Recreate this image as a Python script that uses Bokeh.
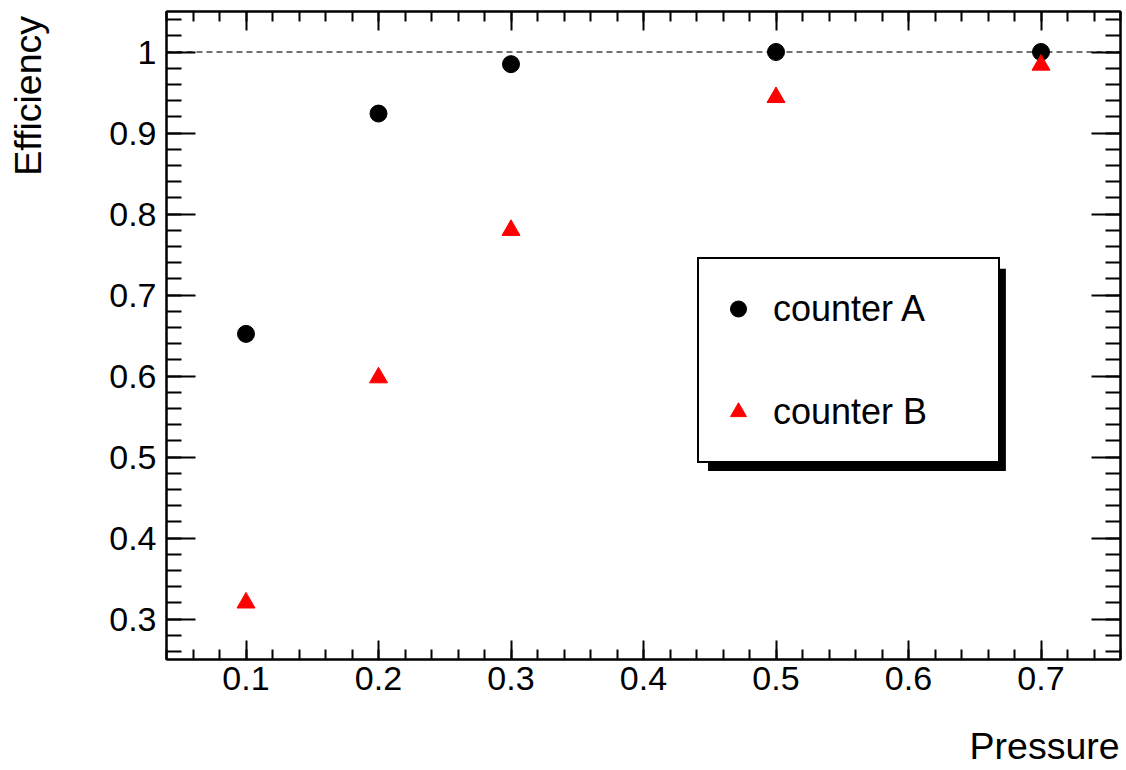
from bokeh.plotting import figure
from bokeh.models import (Range1d, LinearAxis, FixedTicker, CustomJSTickFormatter, Span,
                          Legend, LegendItem, BoxAnnotation)
from bokeh.embed import file_html
from bokeh.resources import INLINE

# ---- data ----
pressure = [0.1, 0.2, 0.3, 0.5, 0.7]
eff_a = [0.652, 0.924, 0.985, 1.0, 1.0]
eff_b = [0.320, 0.598, 0.780, 0.944, 0.984]
x_ticks = [0.1, 0.2, 0.3, 0.4, 0.5, 0.6, 0.7]
y_ticks = [0.3, 0.4, 0.5, 0.6, 0.7, 0.8, 0.9, 1.0]
x_label = "Pressure"
y_label = "Efficiency"
names = ["counter A", "counter B"]

FONT = "Liberation Sans"
NBSP = "\u00a0"
x_minor = [round(0.04 + 0.02 * i, 2) for i in range(37)]
y_minor = [round(0.26 + 0.02 * i, 2) for i in range(40)]

p = figure(width=1126, height=770, x_range=Range1d(0.04, 0.76), y_range=Range1d(0.25, 1.05),
           output_backend="svg", toolbar_location=None,
           min_border_left=166, min_border_right=6, min_border_top=11, min_border_bottom=111,
           x_axis_type=None, y_axis_type=None)
p.xgrid.visible = False
p.ygrid.visible = False
p.outline_line_color = "black"
p.outline_line_width = 2
p.background_fill_color = "white"
p.border_fill_color = "white"

fmt = CustomJSTickFormatter(code="return String(Number(tick.toFixed(2)));")
blank = CustomJSTickFormatter(code="return '';")


def make_axis(ticks, minor, tin, mtin, labels):
    ax = LinearAxis(ticker=FixedTicker(ticks=ticks, minor_ticks=minor),
                    formatter=fmt if labels else blank)
    ax.axis_label = None
    ax.axis_line_color = "black"
    ax.axis_line_width = 2
    ax.major_tick_line_color = "black"
    ax.major_tick_line_width = 2
    ax.minor_tick_line_color = "black"
    ax.minor_tick_line_width = 2
    ax.major_tick_in = tin
    ax.major_tick_out = 0
    ax.minor_tick_in = mtin
    ax.minor_tick_out = 0
    if labels:
        ax.major_label_text_font = FONT
        ax.major_label_text_font_size = "34px"
        ax.major_label_text_color = "black"
    else:
        ax.major_label_text_font_size = "1px"
        ax.major_label_standoff = 0
        ax.axis_label_standoff = 0
    return ax


def title_axis(text, standoff):
    # invisible axis that only carries the axis title
    ax = LinearAxis(ticker=FixedTicker(ticks=[], minor_ticks=[]), formatter=blank)
    ax.axis_line_color = None
    ax.major_tick_line_color = None
    ax.minor_tick_line_color = None
    ax.major_tick_in = 0
    ax.major_tick_out = 0
    ax.minor_tick_in = 0
    ax.minor_tick_out = 0
    ax.major_label_text_font_size = "1px"
    ax.major_label_standoff = 0
    ax.axis_label = text
    ax.axis_label_standoff = standoff
    ax.axis_label_text_font = FONT
    ax.axis_label_text_font_size = "37.5px"
    ax.axis_label_text_font_style = "normal"
    ax.axis_label_text_color = "black"
    return ax


xb = make_axis(x_ticks, x_minor, 19, 10, True)
xb.major_label_standoff = 7
yl = make_axis(y_ticks, y_minor, 29, 15, True)
yl.major_label_standoff = 10
xt = make_axis(x_ticks, x_minor, 19, 10, False)
yr = make_axis(y_ticks, y_minor, 29, 15, False)
p.add_layout(xb, "below")
p.add_layout(yl, "left")
p.add_layout(xt, "above")
p.add_layout(yr, "right")
# ROOT-style titles pushed to the end of each axis (leading no-break spaces shift the
# centred label towards the axis end)
p.add_layout(title_axis(NBSP * 77 + x_label, 32), "below")
p.add_layout(title_axis(NBSP * 46 + y_label, 58), "left")

p.add_layout(Span(location=1.0, dimension="width", line_dash="6 4", line_color="#444444",
                  line_width=1.5, level="underlay"))

ra = p.scatter(pressure, eff_a, marker="circle", size=17, fill_color="black", line_color="black")
rb = p.scatter(pressure, eff_b, marker="triangle", size=18, fill_color="red", line_color="red")

# legend shadow
p.add_layout(BoxAnnotation(left=0.4487, right=0.6735, top=0.7323, bottom=0.4826,
                           fill_color="black", fill_alpha=1.0, line_color=None,
                           level="annotation"))

legend = Legend(items=[LegendItem(label=names[0], renderers=[ra]),
                       LegendItem(label=names[1], renderers=[rb])],
                location=(531, 196), orientation="vertical",
                glyph_width=40, glyph_height=61, label_height=61, label_width=206,
                spacing=42, padding=19, label_standoff=15, margin=0,
                label_text_font=FONT, label_text_font_size="36px", label_text_color="black",
                border_line_color="black", border_line_width=2, border_line_alpha=1.0,
                background_fill_color="white", background_fill_alpha=1.0)
p.add_layout(legend, "center")

open("out.html", "w").write(file_html(p, INLINE))
